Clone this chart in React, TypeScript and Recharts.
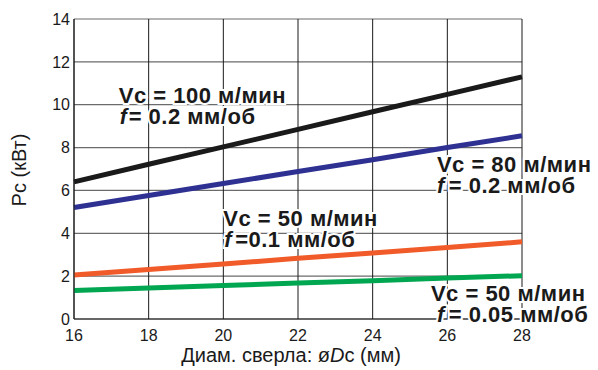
import React from "react";
import {
  CartesianGrid,
  Label,
  Line,
  LineChart,
  ReferenceDot,
  XAxis,
  YAxis
} from "recharts";

const diameters = [16, 18, 20, 22, 24, 26, 28];
const power100f02 = [6.4, 7.22, 8.03, 8.85, 9.67, 10.48, 11.3];
const power80f02 = [5.2, 5.76, 6.32, 6.88, 7.43, 8.0, 8.55];
const power50f01 = [2.05, 2.31, 2.57, 2.83, 3.08, 3.34, 3.6];
const power50f005 = [1.33, 1.45, 1.56, 1.68, 1.79, 1.91, 2.02];

const xTicks = [16, 18, 20, 22, 24, 26, 28];
const yTicks = [0, 2, 4, 6, 8, 10, 12, 14];

const notes = [
  { x: 17.2, y: 10.1, speed: "Vc = 100 м/мин", feed: "= 0.2 мм/об", fx: 1, gap: 1 },
  { x: 25.72, y: 6.88, speed: "Vc = 80 м/мин", feed: "= 0.2 мм/об", fx: 0, gap: 4 },
  { x: 20.0, y: 4.32, speed: "Vc = 50 м/мин", feed: "=0.1 мм/об", fx: 1, gap: 3 },
  { x: 25.56, y: 0.82, speed: "Vc = 50 м/мин", feed: "= 0.05 мм/об", fx: 6, gap: 4 }
];

const data = diameters.map((d, i) => ({
  d,
  p100: power100f02[i],
  p80: power80f02[i],
  p50a: power50f01[i],
  p50b: power50f005[i]
}));

const FONT = "'Liberation Sans', Arial, Helvetica, sans-serif";

function noteContent(speed: string, feed: string, fx: number, gap: number) {
  return (props: any) => {
    const vb = props.viewBox || {};
    const x = vb.x ?? 0;
    const y = vb.y ?? 0;
    const common = {
      fontFamily: FONT,
      fontWeight: 700,
      fontSize: 22,
      fill: "#1a1a1a",
      stroke: "#ffffff",
      strokeWidth: 4,
      paintOrder: "stroke" as const,
      letterSpacing: 0.5
    };
    return (
      <g>
        <text x={x} y={y} {...common}>
          {speed}
        </text>
        <text x={x + fx} y={y + 21} {...common}>
          <tspan fontStyle="italic">f</tspan>
          <tspan dx={gap}>{feed}</tspan>
        </text>
      </g>
    );
  };
}

export default function App() {
  return (
    <div style={{ position: "absolute", left: 0, top: 0, background: "#fff" }}>
      <LineChart
        width={598}
        height={370}
        data={data}
        margin={{ top: 19, right: 76, bottom: 20, left: 30 }}
      >
        <CartesianGrid stroke="#6b6b6b" strokeWidth={1.2} vertical={false} />
        <CartesianGrid stroke="#1a1a1a" strokeWidth={1} horizontal={false} />
        <XAxis
          dataKey="d"
          type="number"
          domain={[16, 28]}
          ticks={xTicks}
          tickLine={false}
          tickSize={0}
          tickMargin={11}
          height={31}
          stroke="#1a1a1a"
          tick={{ fill: "#1a1a1a", fontSize: 16, fontFamily: FONT }}
        >
          <Label
            content={(props: any) => {
              const vb = props.viewBox || {};
              return (
                <text
                  x={vb.x + vb.width / 2 - 7}
                  y={vb.y + 43}
                  textAnchor="middle"
                  fontFamily={FONT}
                  fontSize={20}
                  fill="#1a1a1a"
                >
                  Диам. сверла: ø<tspan fontStyle="italic">D</tspan>c (мм)
                </text>
              );
            }}
          />
        </XAxis>
        <YAxis
          type="number"
          domain={[0, 14]}
          ticks={yTicks}
          tickLine={false}
          tickSize={0}
          tickMargin={4}
          width={44}
          stroke="#1a1a1a"
          tick={{ fill: "#1a1a1a", fontSize: 16, fontFamily: FONT }}
        >
          <Label
            content={(props: any) => {
              const vb = props.viewBox || {};
              const cx = 19;
              const cy = vb.y + vb.height / 2 + 1;
              return (
                <text
                  x={cx}
                  y={cy}
                  transform={`rotate(-90 ${cx} ${cy})`}
                  textAnchor="middle"
                  dominantBaseline="central"
                  fontFamily={FONT}
                  fontSize={20}
                  fill="#1a1a1a"
                >
                  Pc (кВт)
                </text>
              );
            }}
          />
        </YAxis>
        <Line dataKey="p50b" stroke="#00a650" strokeWidth={5} dot={false} isAnimationActive={false} />
        <Line dataKey="p50a" stroke="#f15a29" strokeWidth={5} dot={false} isAnimationActive={false} />
        <Line dataKey="p80" stroke="#2e3192" strokeWidth={5} dot={false} isAnimationActive={false} />
        <Line dataKey="p100" stroke="#1a1a1a" strokeWidth={5} dot={false} isAnimationActive={false} />
        {notes.map((n, i) => (
          <ReferenceDot
            key={i}
            x={n.x}
            y={n.y}
            r={0}
            fill="none"
            stroke="none"
            ifOverflow="visible"
            label={{ content: noteContent(n.speed, n.feed, n.fx, n.gap) }}
          />
        ))}
      </LineChart>
    </div>
  );
}
